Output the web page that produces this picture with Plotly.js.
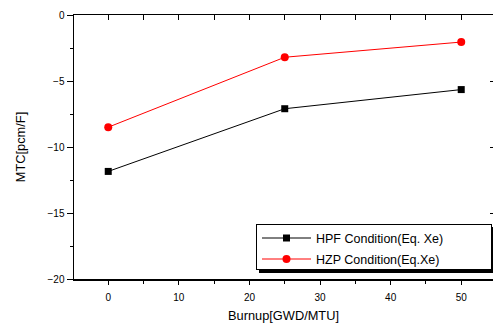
<!DOCTYPE html>
<html><head><meta charset="utf-8">
<script src="https://cdn.plot.ly/plotly-3.0.1.min.js"></script>
<style>html,body{margin:0;padding:0;background:#fff}</style>
</head><body>
<div id="chart" style="width:493px;height:327px"></div>
<script>
var burnup = [0, 25, 50];
var hpf = [-11.85, -7.1, -5.65];
var hzp = [-8.5, -3.2, -2.05];
var names = ['HPF Condition(Eq. Xe)', 'HZP Condition(Eq.Xe)'];

var F = 'Liberation Sans, Arial, sans-serif';
var traces = [
  {x: burnup, y: hpf, name: names[0], mode: 'lines+markers', type: 'scatter',
   line: {color: '#000', width: 1}, marker: {symbol: 'square', size: 7, color: '#000'}},
  {x: burnup, y: hzp, name: names[1], mode: 'lines+markers', type: 'scatter',
   line: {color: '#ff0000', width: 1}, marker: {symbol: 'circle', size: 8, color: '#ff0000'}}
];
traces.push({x: burnup, y: hpf, xaxis: 'x2', yaxis: 'y2', mode: 'none', showlegend: false, hoverinfo: 'skip'});

var xr = [-4.85, 54.5], yr = [-20, 0];
var layout = {
  width: 493, height: 327,
  margin: {l: 74, r: 0, t: 15, b: 48},
  paper_bgcolor: '#fff', plot_bgcolor: '#fff',
  font: {family: F, color: '#000', size: 10},
  xaxis: {range: xr, showgrid: false, zeroline: false, showline: true, linecolor: '#000', linewidth: 1.5,
    tickvals: [0, 10, 20, 30, 40, 50], ticks: 'outside', ticklen: 4, tickwidth: 1, tickcolor: '#000',
    minor: {tickvals: [5, 15, 25, 35, 45], ticks: 'outside', ticklen: 3, tickwidth: 1, tickcolor: '#000'},
    tickfont: {size: 10, family: F}, ticklabelstandoff: 4,
    title: {text: 'Burnup[GWD/MTU]', font: {size: 12.8, family: F}, standoff: 9}},
  yaxis: {range: yr, showgrid: false, zeroline: false, showline: true, linecolor: '#000', linewidth: 1.5,
    tickvals: [-20, -15, -10, -5, 0], ticks: 'outside', ticklen: 6, tickwidth: 1, tickcolor: '#000',
    minor: {tickvals: [-17.5, -12.5, -7.5, -2.5], ticks: 'outside', ticklen: 3, tickwidth: 1, tickcolor: '#000'},
    tickfont: {size: 10, family: F},
    title: {text: 'MTC[pcm/F]', font: {size: 12.8, family: F}, standoff: 19}},
  xaxis2: {range: xr, overlaying: 'x', side: 'top', showgrid: false, zeroline: false, showline: true,
    linecolor: '#000', linewidth: 1.5, tickvals: [0, 5, 10, 15, 20, 25, 30, 35, 40, 45, 50],
    ticks: 'inside', ticklen: 5, tickwidth: 1, tickcolor: '#000', showticklabels: false},
  yaxis2: {range: yr, overlaying: 'y', side: 'right', showgrid: false, zeroline: false, showline: true,
    linecolor: '#000', linewidth: 1.5, tickvals: [-20, -15, -10, -5, 0],
    ticks: 'inside', ticklen: 3, tickwidth: 1, tickcolor: '#000', showticklabels: false},
  showlegend: true,
  legend: {x: 0.434, y: 0.038, xanchor: 'left', yanchor: 'bottom', bgcolor: '#fff',
    bordercolor: '#000', borderwidth: 1, font: {size: 12.5, family: F}, tracegroupgap: 0,
    itemwidth: 49}
};
Plotly.newPlot('chart', traces, layout, {displayModeBar: false, staticPlot: true}).then(function(gd){
  var leg = gd.querySelector('g.legend');
  if (!leg) return;
  var bg = leg.querySelector('rect.bg');
  var W = 235, H = 45;
  leg.setAttribute('transform', 'translate(256,224)');
  if (bg) {
    bg.setAttribute('width', W); bg.setAttribute('height', H);
    bg.setAttribute('x', 0); bg.setAttribute('y', 0);
    var sh = bg.cloneNode(false);
    sh.setAttribute('class', 'shadow');
    sh.setAttribute('transform', 'translate(3,3)');
    sh.style.fill = '#000'; sh.style.stroke = '#000';
    bg.parentNode.insertBefore(sh, bg);
  }
  var tr = leg.querySelectorAll('g.traces');
  var ys = [14, 35];
  for (var i = 0; i < tr.length && i < ys.length; i++) tr[i].setAttribute('transform', 'translate(1,' + ys[i] + ')');
  var sb = leg.querySelector('g.scrollbox');
  if (sb) sb.setAttribute('transform', 'translate(0,0)');
  var clip = gd.querySelector('clipPath[id*="legend"] rect');
  if (clip) { clip.setAttribute('width', W + 10); clip.setAttribute('height', H + 10); clip.setAttribute('x', 0); clip.setAttribute('y', 0); }
});
</script>
</body></html>
